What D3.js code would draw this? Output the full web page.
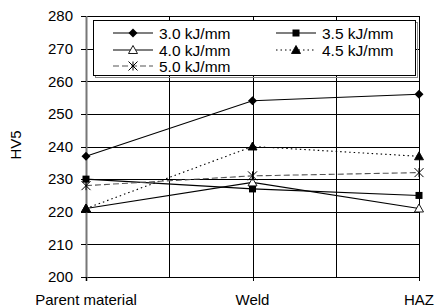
<!DOCTYPE html>
<meta charset="utf-8">
<html>
<head>
  <script src="https://d3js.org/d3.v7.min.js"></script>
  <style>
    body { margin: 0; background: #fff; }
    text { font-family: 'Liberation Sans', Arial, sans-serif; fill: #000; }
  </style>
</head>
<body>
  <script>
    // Data
    var categories = ['Parent material', 'Weld', 'HAZ'];
    var seriesNames = ['3.0 kJ/mm', '3.5 kJ/mm', '4.0 kJ/mm', '4.5 kJ/mm', '5.0  kJ/mm'];
    var hv30 = [237, 254, 256];
    var hv35 = [230, 227, 225];
    var hv40 = [221, 229, 221];
    var hv45 = [221, 240, 237];
    var hv50 = [228, 231, 232];
    var yTicks = [200, 210, 220, 230, 240, 250, 260, 270, 280];

    var series = [
      { name: seriesNames[0], values: hv30, marker: 'diamond', dash: null, color: '#000' },
      { name: seriesNames[1], values: hv35, marker: 'square', dash: null, color: '#000' },
      { name: seriesNames[2], values: hv40, marker: 'triangleOpen', dash: null, color: '#000' },
      { name: seriesNames[3], values: hv45, marker: 'triangle', dash: '1.5,3', color: '#000' },
      { name: seriesNames[4], values: hv50, marker: 'asterisk', dash: '6,3', color: '#555' }
    ];

    var W = 437, H = 308;
    var m = { top: 16, right: 18, bottom: 31, left: 86 };
    var w = W - m.left - m.right,
      h = H - m.top - m.bottom;

    var svg = d3.select('body').append('svg')
      .attr('width', W).attr('height', H);
    var g = svg.append('g').attr('transform', `translate(${m.left}, ${m.top})`);

    // Scales
    var x = d3.scalePoint().domain(categories).range([0, w]);
    var xHalf = d3.scaleLinear().domain([0, categories.length - 1]).range([0, w]);
    var y = d3.scaleLinear().domain([200, 280]).range([h, 0]);

    // Grid
    g.append('g').selectAll('line')
      .data(yTicks).enter().append('line')
      .attr('x1', 0).attr('x2', w)
      .attr('y1', d => Math.round(y(d)) + 0.5).attr('y2', d => Math.round(y(d)) + 0.5)
      .attr('stroke', '#000').attr('stroke-width', 1);

    g.append('g').selectAll('line')
      .data(d3.range(0, categories.length - 0.5, 0.5)).enter().append('line')
      .attr('x1', d => Math.round(xHalf(d)) + 0.5).attr('x2', d => Math.round(xHalf(d)) + 0.5)
      .attr('y1', 0).attr('y2', h)
      .attr('stroke', '#000').attr('stroke-width', 1);

    // Left axis
    g.append('line')
      .attr('x1', 0.5).attr('x2', 0.5).attr('y1', 0).attr('y2', h + 4)
      .attr('stroke', '#777').attr('stroke-width', 2);

    g.append('g').selectAll('line')
      .data(yTicks).enter().append('line')
      .attr('x1', -5).attr('x2', 0)
      .attr('y1', d => Math.round(y(d)) + 0.5).attr('y2', d => Math.round(y(d)) + 0.5)
      .attr('stroke', '#000');

    g.append('g').selectAll('line')
      .data(categories).enter().append('line')
      .attr('x1', d => Math.round(x(d)) + 0.5).attr('x2', d => Math.round(x(d)) + 0.5)
      .attr('y1', h).attr('y2', h + 4)
      .attr('stroke', '#000');

    g.append('g').selectAll('text')
      .data(yTicks).enter().append('text')
      .attr('x', -13).attr('y', d => y(d) + 5.3)
      .attr('text-anchor', 'end')
      .style('font-size', '15px')
      .text(d => d);

    g.append('g').selectAll('text')
      .data(categories).enter().append('text')
      .attr('x', d => x(d)).attr('y', h + 28)
      .attr('text-anchor', 'middle')
      .style('font-size', '15px')
      .text(d => d);

    svg.append('text')
      .attr('transform', 'translate(21, 145) rotate(-90)')
      .attr('text-anchor', 'middle')
      .style('font-size', '15px')
      .text('HV5');

    // Markers
    function drawMarker(sel, type, cx, cy) {
      if (type === 'diamond') {
        sel.append('path').attr('d', `M${cx},${cy - 4.5}L${cx + 4.5},${cy}L${cx},${cy + 4.5}L${cx - 4.5},${cy}Z`)
          .attr('fill', '#000');
      } else if (type === 'square') {
        sel.append('rect').attr('x', cx - 3.5).attr('y', cy - 3.5).attr('width', 7).attr('height', 7)
          .attr('fill', '#000');
      } else if (type === 'triangle' || type === 'triangleOpen') {
        sel.append('path').attr('d', `M${cx},${cy - 4.5}L${cx + 4.5},${cy + 3.5}L${cx - 4.5},${cy + 3.5}Z`)
          .attr('fill', type === 'triangle' ? '#000' : '#fff')
          .attr('stroke', '#000').attr('stroke-width', 0.9);
      } else if (type === 'asterisk') {
        var r = 4.5;
        sel.append('path')
          .attr('d', `M${cx - r},${cy - r}L${cx + r},${cy + r}M${cx - r},${cy + r}L${cx + r},${cy - r}M${cx},${cy - r}L${cx},${cy + r}`)
          .attr('stroke', '#000').attr('stroke-width', 1).attr('fill', 'none');
      }
    }

    var line = d3.line()
      .x((d, i) => x(categories[i]))
      .y(d => y(d));

    series.forEach(s => {
      g.append('path')
        .datum(s.values)
        .attr('d', line)
        .attr('fill', 'none')
        .attr('stroke', s.color)
        .attr('stroke-width', 1.1)
        .attr('stroke-dasharray', s.dash);
    });
    series.forEach(s => {
      s.values.forEach((v, i) => drawMarker(g, s.marker, x(categories[i]), y(v)));
    });

    // Legend
    var lg = svg.append('g');
    lg.append('rect').attr('x', 95.5).attr('y', 22.5).attr('width', 322).attr('height', 55)
      .attr('fill', 'none').attr('stroke', '#888').attr('stroke-width', 1);
    lg.append('rect').attr('x', 93.5).attr('y', 20.5).attr('width', 322).attr('height', 55)
      .attr('fill', '#fff').attr('stroke', '#000').attr('stroke-width', 1);

    var legendPos = [[113, 33], [276, 33], [113, 50], [276, 50], [113, 66]];
    series.forEach((s, i) => {
      var lx = legendPos[i][0], ly = legendPos[i][1];
      lg.append('line')
        .attr('x1', lx).attr('x2', lx + 40).attr('y1', ly).attr('y2', ly)
        .attr('stroke', s.color).attr('stroke-width', 1.1)
        .attr('stroke-dasharray', s.dash);
      drawMarker(lg, s.marker, lx + 20, ly);
      lg.append('text')
        .attr('x', lx + 46).attr('y', ly + 5.5)
        .style('font-size', '15.5px')
        .text(s.name);
    });
  </script>
</body>
</html>
